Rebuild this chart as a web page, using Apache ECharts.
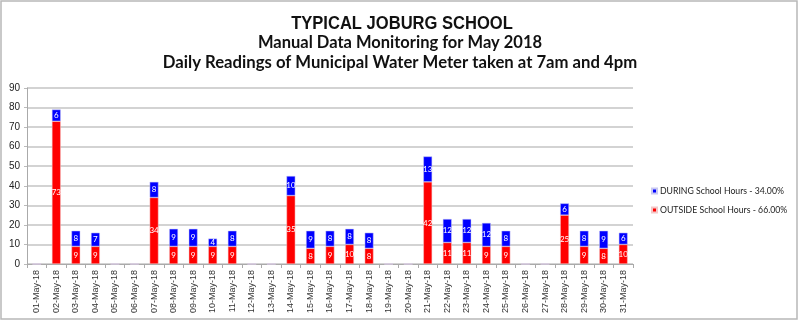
<!DOCTYPE html>
<html>
<head>
<meta charset="utf-8">
<script src="https://cdn.jsdelivr.net/npm/echarts@6/dist/echarts.min.js"></script>
<style>
  html, body { margin: 0; padding: 0; background: #fff; }
  #chart { width: 800px; height: 322px; }
</style>
</head>
<body>
<div id="chart"></div>
<script>
// Days of May 2018
const days = [
  '01-May-18','02-May-18','03-May-18','04-May-18','05-May-18','06-May-18','07-May-18',
  '08-May-18','09-May-18','10-May-18','11-May-18','12-May-18','13-May-18','14-May-18',
  '15-May-18','16-May-18','17-May-18','18-May-18','19-May-18','20-May-18','21-May-18',
  '22-May-18','23-May-18','24-May-18','25-May-18','26-May-18','27-May-18','28-May-18',
  '29-May-18','30-May-18','31-May-18'
];

// Consumption outside school hours (4pm -> 7am)
const outsideHours = [0,73,9,9,0,0,34,9,9,9,9,0,0,35,8,9,10,8,0,0,42,11,11,9,9,0,0,25,9,8,10];
// Consumption during school hours (7am -> 4pm)
const duringHours  = [0,6,8,7,0,0,8,9,9,4,8,0,0,10,9,8,8,8,0,0,13,12,12,12,8,0,0,6,8,9,6];

const yTicks = { min: 0, max: 90, interval: 10 };

const titleLines = [
  'TYPICAL JOBURG SCHOOL',
  'Manual Data Monitoring for May 2018',
  'Daily Readings of Municipal Water Meter taken at 7am and 4pm'
];
const seriesNames = ['DURING School Hours - 34.00%', 'OUTSIDE School Hours - 66.00%'];

const chart = echarts.init(document.getElementById('chart'), null, { renderer: 'canvas' });

const segLabel = {
  show: true,
  position: 'inside',
  color: '#fff',
  fontSize: 8,
  fontFamily: 'Lato, Liberation Sans, sans-serif',
  formatter: p => (p.value ? String(p.value) : '')
};

chart.setOption({
  animation: false,
  backgroundColor: '#fff',
  legend: {
    orient: 'vertical',
    left: 651, top: 186,
    padding: 0,
    icon: 'rect',
    itemWidth: 5, itemHeight: 5, itemGap: 9,
    data: seriesNames,
    textStyle: { fontFamily: 'Lato, sans-serif', fontSize: 8.7, lineHeight: 10, color: '#222', padding: [0, 0, 0, -2] }
  },
  grid: { left: 27, right: 167, top: 88, bottom: 58, containLabel: false },
  xAxis: {
    type: 'category',
    data: days,
    boundaryGap: true,
    axisLine: { lineStyle: { color: '#aaa', width: 1 } },
    axisTick: { show: true, length: 4, lineStyle: { color: '#aaa' } },
    axisLabel: {
      rotate: 90, interval: 0, margin: 6,
      fontFamily: '"Liberation Sans", Arial, sans-serif', fontSize: 9, color: '#333'
    }
  },
  yAxis: {
    type: 'value',
    min: yTicks.min, max: yTicks.max, interval: yTicks.interval,
    axisLine: { show: true, lineStyle: { color: '#aaa', width: 1 } },
    axisTick: { show: true, length: 3, lineStyle: { color: '#bbb' } },
    splitLine: { lineStyle: { color: '#c4c4c4', width: 1.5 } },
    axisLabel: { margin: 7, fontFamily: '"Liberation Sans", Arial, sans-serif', fontSize: 10, color: '#222' }
  },
  series: [
    {
      name: seriesNames[1],
      type: 'bar',
      stack: 'water',
      data: outsideHours,
      barWidth: '45%',
      itemStyle: { color: '#ff0000', borderColor: '#f3c8c8', borderWidth: 0.5 },
      label: segLabel
    },
    {
      name: seriesNames[0],
      type: 'bar',
      stack: 'water',
      data: duringHours,
      barWidth: '45%',
      itemStyle: { color: '#0000ff', borderColor: '#c8c8f3', borderWidth: 0.5 },
      label: segLabel
    }
  ],
  graphic: [
    {
      type: 'rect',
      shape: { x: 1, y: 1, width: 796, height: 318 },
      style: { fill: 'none', stroke: '#b8b8b8', lineWidth: 1.5 },
      silent: true
    },
    {
      // condensed heading: bold sans squeezed horizontally
      type: 'text',
      x: 402, y: 24,
      scaleX: 0.92,
      style: {
        text: titleLines[0],
        align: 'center', verticalAlign: 'middle',
        font: 'bold 18px "Liberation Sans", Arial, sans-serif',
        fill: '#111'
      },
      silent: true
    },
    {
      type: 'text',
      x: 400, y: 43,
      style: {
        text: titleLines[1],
        align: 'center', verticalAlign: 'middle',
        font: 'bold 16.5px Lato, sans-serif',
        fill: '#111'
      },
      silent: true
    },
    {
      type: 'text',
      x: 400, y: 63,
      style: {
        text: titleLines[2],
        align: 'center', verticalAlign: 'middle',
        font: 'bold 16.7px Lato, sans-serif',
        fill: '#111'
      },
      silent: true
    }
  ]
});
</script>
</body>
</html>
